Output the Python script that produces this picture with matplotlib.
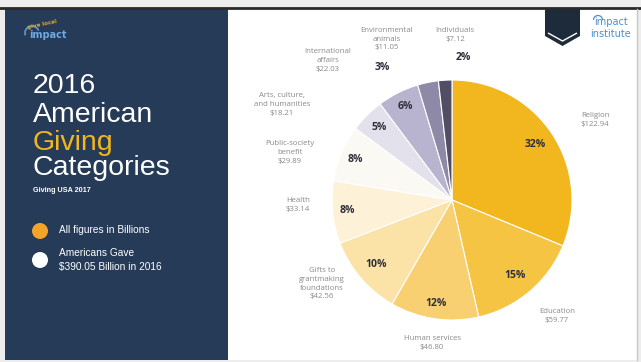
import matplotlib.pyplot as plt
from matplotlib.patches import Rectangle, Circle, Polygon, Arc
import numpy as np

# Giving USA 2017 - charitable giving by recipient type, 2016 (billions of dollars)
categories = ["Religion", "Education", "Human services",
              "Gifts to\ngrantmaking\nfoundations", "Health",
              "Public-society\nbenefit", "Arts, culture,\nand humanities",
              "International\naffairs", "Environmental\nanimals", "Individuals"]
amounts = [122.94, 59.77, 46.80, 42.56, 33.14, 29.89, 18.21, 22.03, 11.05, 7.12]
amount_labels = ["$122.94", "$59.77", "$46.80", "$42.56", "$33.14",
                 "$29.89", "$18.21", "$22.03", "$11.05", "$7.12"]
pct_labels = ["32%", "15%", "12%", "10%", "8%", "8%", "5%", "6%", "3%", "2%"]
total_given = "$390.05"

colors = ["#F2B61E", "#F5C443", "#F8D072", "#FBE2A6", "#FDF2D8",
          "#FAF9F4", "#E3E1EC", "#B8B4CF", "#8D89A7", "#504D65"]

W, H = 641, 362
NAVY = "#253B57"
GOLD = "#F2B61E"


def Y(py):
    # pixel rows are counted from the top
    return H - py


fig = plt.figure(figsize=(W / 100, H / 100), dpi=100, facecolor="#EDEDED")
ax = fig.add_axes([0, 0, 1, 1])

# slide background: navy title panel and white chart area
ax.add_patch(Rectangle((228, Y(360)), 409, 351, facecolor="white", edgecolor="none"))
ax.add_patch(Rectangle((5, Y(360)), 223, 351, facecolor=NAVY, edgecolor="none"))
ax.plot([0, W], [Y(8), Y(8)], color="#2a2a2a", lw=2)
ax.plot([637, 637], [Y(9), Y(360)], color="#c8c8c8", lw=1)

# pie
cx, cy, r = 452, Y(200), 120
wedges, _ = ax.pie(amounts, colors=colors, startangle=90, counterclock=False,
                   center=(cx, cy), radius=r,
                   wedgeprops=dict(edgecolor="white", linewidth=0.8))

pct_dist = [0.83, 0.82, 0.87, 0.83, 0.88, 0.87, 0.86, 0.87]
for w, d, lab in zip(wedges, pct_dist, pct_labels):
    mid = np.deg2rad((w.theta1 + w.theta2) / 2)
    ax.text(cx + d * r * np.cos(mid), cy + d * r * np.sin(mid), lab,
            ha="center", va="center", fontsize=7.5, fontweight="bold",
            color="#2E2E3A", family="Open Sans")

# category names with dollar amounts around the pie
label_pos = [(595, 112), (557, 308), (432, 335), (322, 267), (298, 197),
             (290, 140), (282, 92), (328, 48), (387, 27), (455, 27)]
for (px, py), name, amt in zip(label_pos, categories, amount_labels):
    ax.text(px, Y(py), name + "\n" + amt, ha="center", va="top",
            fontsize=5.6, color="#8A8A8A", family="Open Sans", linespacing=1.35)

# the two thin slices carry their share outside the pie
ax.text(382, Y(68), pct_labels[8], ha="center", va="center", fontsize=7.5,
        fontweight="bold", color="#2E2E3A", family="Open Sans")
ax.text(463, Y(58), pct_labels[9], ha="center", va="center", fontsize=7.5,
        fontweight="bold", color="#2E2E3A", family="Open Sans")

# title block
title_font = dict(family="Liberation Sans", fontsize=20.5, va="baseline", ha="left")
ax.text(33, Y(93), "2016", color="white", **title_font)
ax.text(33, Y(122), "American", color="white", **title_font)
ax.text(33, Y(150), "Giving", color=GOLD, **title_font)
ax.text(33, Y(175), "Categories", color="white", **title_font)
ax.text(33, Y(192), "Giving USA 2017", color="white", fontsize=5.2,
        fontweight="bold", family="Liberation Sans", va="baseline")

# notes
ax.add_patch(Circle((40, Y(231)), 8, facecolor="#F3A529", edgecolor="none"))
ax.add_patch(Circle((40, Y(260)), 8, facecolor="white", edgecolor="none"))
ax.text(59, Y(230), "All figures in Billions", color="white", fontsize=7.3,
        family="Liberation Sans", va="center")
ax.text(59, Y(253), "Americans Gave", color="white", fontsize=7.3,
        family="Liberation Sans", va="center")
ax.text(59, Y(267), total_given + " Billion in 2016", color="white", fontsize=7.3,
        family="Liberation Sans", va="center")

# impact logos
ax.add_patch(Arc((32, Y(33)), 14, 14, theta1=20, theta2=200, color="#5B9BD5", lw=1.2))
ax.text(27, Y(24), "give local", color="#D9A33A", fontsize=4, fontweight="bold",
        family="DejaVu Sans", rotation=12, va="center")
ax.text(29, Y(35), "impact", color="#6FA8E0", fontsize=7, fontweight="bold",
        family="DejaVu Sans", va="center")

ax.add_patch(Polygon([(545, Y(9)), (580, Y(9)), (580, Y(36)), (562.5, Y(46)), (545, Y(36))],
                     closed=True, facecolor="#1E2B3A", edgecolor="none"))
ax.add_patch(Polygon([(548, Y(33)), (562.5, Y(41)), (577, Y(33))], closed=False,
                     fill=False, edgecolor="white", lw=1))
ax.add_patch(Arc((598, Y(20)), 9, 9, theta1=0, theta2=180, color="#4A8FD0", lw=0.9))
ax.text(594, Y(22), "impact", color="#4A8FD0", fontsize=7, family="DejaVu Sans",
        va="center", ha="left")
ax.text(590, Y(34), "institute", color="#4A8FD0", fontsize=7, family="DejaVu Sans",
        va="center", ha="left")

ax.set_xlim(0, W)
ax.set_ylim(0, H)
ax.set_aspect("auto")
ax.axis("off")

fig.savefig("out.png", dpi=100, facecolor=fig.get_facecolor())
